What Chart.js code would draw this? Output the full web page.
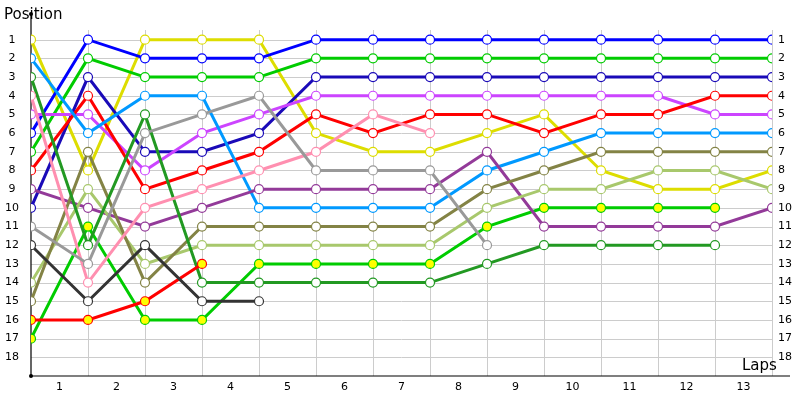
<!DOCTYPE html>
<html><head><meta charset="utf-8">
<script src="https://cdn.jsdelivr.net/npm/chart.js@4/dist/chart.umd.min.js"></script>
<style>html,body{margin:0;padding:0;background:#fff}#w{width:800px;height:400px}</style>
</head><body><div id="w"><canvas id="c"></canvas></div>
<script>
const lapLabels = ['1','2','3','4','5','6','7','8','9','10','11','12','13'];
const positionLabels = ['1','2','3','4','5','6','7','8','9','10','11','12','13','14','15','16','17','18'];
const sYellow     = [1,8,1,1,1,6,7,7,6,5,8,9,9,8];
const sLightBlue  = [2,6,4,4,10,10,10,10,8,7,6,6,6,6];
const sDarkGreen  = [3,12,5,14,14,14,14,14,13,12,12,12,12];
const sPink       = [4,14,10,9,8,7,5,6];
const sViolet     = [5,5,8,6,5,4,4,4,4,4,4,4,5,5];
const sBlue       = [6,1,2,2,2,1,1,1,1,1,1,1,1,1];
const sGreen      = [7,2,3,3,3,2,2,2,2,2,2,2,2,2];
const sRed        = [8,4,9,8,7,5,6,5,5,6,5,5,4,4];
const sPurple     = [9,10,11,10,9,9,9,9,7,11,11,11,11,10];
const sNavy       = [10,3,7,7,6,3,3,3,3,3,3,3,3,3];
const sGray       = [11,13,6,5,4,8,8,8,12];
const sBlack      = [12,15,12,15,15];
const sLightOlive = [14,9,13,12,12,12,12,12,10,9,9,8,8,9];
const sOlive      = [15,7,14,11,11,11,11,11,9,8,7,7,7,7];
const sRedY       = [16,16,15,13];
const sGreenY     = [17,11,16,16,13,13,13,13,11,10,10,10,10];

function ds(vals,color,fill){
  return {data:vals.map((v,i)=>({x:i,y:v})),borderColor:color,backgroundColor:fill||'#fff',
    pointBackgroundColor:fill||'#fff',pointBorderColor:color,pointRadius:4.5,pointBorderWidth:1.2,
    borderWidth:3,tension:0};
}
const datasets=[
  ds(sGray,'#999999'),ds(sBlack,'#333333'),ds(sPink,'#ff8fb0'),ds(sRedY,'#ff0000','#ffff00'),
  ds(sDarkGreen,'#229922'),ds(sOlive,'#838345'),ds(sLightOlive,'#a8c86c'),ds(sPurple,'#933a99'),
  ds(sGreenY,'#00cc00','#ffff00'),ds(sLightBlue,'#0099ff'),ds(sRed,'#ff0000'),ds(sViolet,'#cc44ff'),
  ds(sNavy,'#1a0ab8'),ds(sGreen,'#00cc00'),ds(sBlue,'#0000ff'),ds(sYellow,'#dddd00')
];
const deco={id:'deco',
  beforeDatasetsDraw(ch){
    const c=ch.ctx,a=ch.chartArea,x=ch.scales.x,y=ch.scales.y;
    c.save();c.strokeStyle='#cccccc';c.lineWidth=1;
    for(let i=1;i<=13;i++){const px=Math.round(x.getPixelForValue(i))+0.5;c.beginPath();c.moveTo(px,30);c.lineTo(px,a.bottom);c.stroke();}
    for(let i=1;i<=18;i++){const py=Math.round(y.getPixelForValue(i))+0.5;c.beginPath();c.moveTo(a.left,py);c.lineTo(a.right,py);c.stroke();}
    c.strokeStyle='#000';c.lineWidth=1.2;
    c.beginPath();c.moveTo(a.left,14);c.lineTo(a.left,a.bottom);c.lineTo(790,a.bottom);c.stroke();
    c.fillStyle='#000';c.beginPath();c.arc(a.left,14,2,0,7);c.fill();c.beginPath();c.arc(a.left,a.bottom,2,0,7);c.fill();
    c.font='11px "DejaVu Sans"';c.textBaseline='middle';
    positionLabels.forEach((l,i)=>{const py=y.getPixelForValue(i+1);c.textAlign='center';c.fillText(l,12,py);c.textAlign='left';c.fillText(l,778,py);});
    c.textAlign='center';
    lapLabels.forEach((l,i)=>c.fillText(l,x.getPixelForValue(i+0.5),387));
    c.font='15px "DejaVu Sans"';c.textAlign='left';c.fillText('Position',4,15);c.fillText('Laps',742,366);
    c.restore();
  }};
new Chart(document.getElementById('c'),{type:'line',data:{datasets},plugins:[deco],
  options:{responsive:true,maintainAspectRatio:false,animation:false,
    layout:{padding:{left:31,right:28,top:21,bottom:24}},
    plugins:{legend:{display:false},tooltip:{enabled:false}},
    scales:{
      x:{type:'linear',min:0,max:13,display:false},
      y:{type:'linear',min:0,max:19,reverse:true,display:false}
    }}});
</script></body></html>
